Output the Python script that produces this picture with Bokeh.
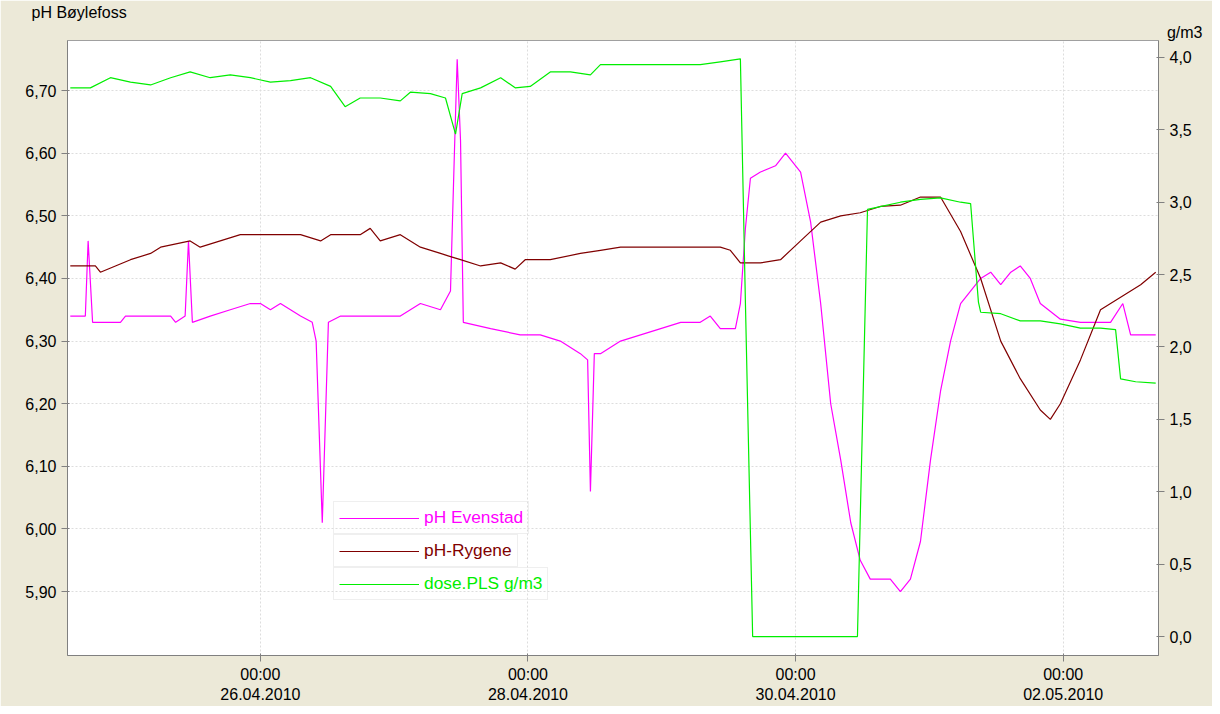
from bokeh.plotting import figure
from bokeh.models import Range1d, LinearAxis, Legend, LegendItem, FixedTicker, Title
from bokeh.embed import file_html
from bokeh.resources import INLINE

# hours relative to 26.04.2010 00:00
ev_h = [-34.1,-31.4,-30.9,-30.1,-25.1,-24.2,-16.1,-15.2,-13.5,-12.9,-12.2,-9.0,-5.4,-1.8,0,1.8,3.6,7.2,9.3,10.0,11.1,12.2,14.4,25.1,26.9,28.7,32.3,34.1,34.8,35.3,35.9,36.4,41.3,46.6,50.2,53.8,57.4,58.7,59.2,59.9,61.0,64.6,68.2,71.8,75.4,78.9,80.7,82.5,85.2,86.1,87.0,87.9,89.7,92.4,94.2,96.9,98.7,100.5,102.3,104.1,105.9,107.6,109.4,111.2,113.0,114.8,116.6,118.4,120.2,122.0,123.8,125.6,129.2,131.0,132.8,134.6,136.3,138.1,139.9,143.5,147.1,150.7,152.5,154.7,156.1,160.6]
ev_ph = [6.34,6.34,6.46,6.33,6.33,6.34,6.34,6.33,6.34,6.46,6.33,6.34,6.35,6.36,6.36,6.35,6.36,6.34,6.33,6.30,6.01,6.33,6.34,6.34,6.35,6.36,6.35,6.38,6.60,6.75,6.62,6.33,6.32,6.31,6.31,6.30,6.28,6.27,6.06,6.28,6.28,6.30,6.31,6.32,6.33,6.33,6.34,6.32,6.32,6.36,6.48,6.56,6.57,6.58,6.60,6.57,6.49,6.36,6.20,6.11,6.01,5.95,5.92,5.92,5.92,5.90,5.92,5.98,6.11,6.22,6.30,6.36,6.40,6.41,6.39,6.41,6.42,6.40,6.36,6.335,6.33,6.33,6.33,6.36,6.31,6.31]

ry_h = [-34.1,-29.6,-28.7,-26.0,-23.3,-19.7,-17.9,-12.6,-10.8,-7.2,-3.6,0,7.2,10.8,12.6,17.9,19.7,21.5,25.1,28.7,32.3,34.1,35.9,39.5,43.1,45.7,47.5,52.0,57.4,61.0,64.6,70.0,75.4,78.9,82.5,84.3,86.1,89.7,93.3,96.9,100.5,104.1,107.6,111.2,114.8,118.4,122.0,125.6,129.2,132.8,136.3,139.9,141.7,143.5,147.1,150.7,154.3,157.9,160.6]
ry_ph = [6.42,6.42,6.41,6.42,6.43,6.44,6.45,6.46,6.45,6.46,6.47,6.47,6.47,6.46,6.47,6.47,6.48,6.46,6.47,6.45,6.44,6.435,6.43,6.42,6.425,6.415,6.43,6.43,6.44,6.445,6.45,6.45,6.45,6.45,6.45,6.445,6.425,6.425,6.43,6.46,6.49,6.50,6.505,6.515,6.517,6.53,6.53,6.475,6.40,6.30,6.24,6.19,6.175,6.20,6.27,6.35,6.37,6.39,6.41]

pl_h = [-34.1,-30.5,-26.9,-23.3,-19.7,-16.1,-12.6,-9.0,-5.4,-1.8,1.8,5.4,9.0,12.6,15.2,17.9,21.5,25.1,26.9,30.5,33.2,35.0,36.2,39.5,43.1,45.7,48.4,52.0,55.6,59.2,61.0,64.6,70.0,78.9,82.5,86.1,87.0,88.3,96.9,107.1,108.9,111.2,114.8,118.4,122.0,125.6,127.4,128.8,129.2,132.8,136.3,139.9,143.5,147.1,150.7,153.4,154.3,157.0,160.6]
pl_g = [3.79,3.79,3.86,3.83,3.81,3.86,3.90,3.86,3.88,3.86,3.83,3.84,3.86,3.80,3.66,3.72,3.72,3.70,3.76,3.75,3.72,3.47,3.75,3.79,3.86,3.79,3.80,3.90,3.90,3.88,3.95,3.95,3.95,3.95,3.97,3.99,2.31,0.0,0.0,0.0,2.95,2.97,3.0,3.02,3.03,3.0,2.99,2.31,2.24,2.23,2.18,2.18,2.16,2.13,2.13,2.12,1.78,1.76,1.75]

x_ticks = [0, 48, 96, 144]
x_labels = ["00:00\n26.04.2010", "00:00\n28.04.2010", "00:00\n30.04.2010", "00:00\n02.05.2010"]
ph_ticks = [5.9, 6.0, 6.1, 6.2, 6.3, 6.4, 6.5, 6.6, 6.7]
g_ticks = [0.0, 0.5, 1.0, 1.5, 2.0, 2.5, 3.0, 3.5, 4.0]

FONT = "Liberation Sans"
p = figure(width=1212, height=706, output_backend="svg", toolbar_location=None,
           x_range=Range1d(-34.6, 161.1), y_range=Range1d(5.798, 6.78),
           min_border_left=67, min_border_right=54, min_border_top=0, min_border_bottom=51)
p.background_fill_color = "white"
p.border_fill_color = "#ECE9D8"
p.outline_line_color = "#A0A0A0"
p.extra_y_ranges = {"g": Range1d(-0.131, 4.117)}

p.title.text = "pH  Bøylefoss"
p.title.text_font = FONT
p.title.text_font_size = "12pt"
p.title.text_font_style = "normal"
p.title.text_color = "black"
p.title.offset = -36
p.title.standoff = 2
p.add_layout(Title(text="g/m3", align="right", text_font=FONT, text_font_size="12pt",
                   text_font_style="normal", text_color="black", offset=-44, standoff=0), "above")

p.xaxis.ticker = FixedTicker(ticks=x_ticks)
p.xaxis.major_label_overrides = dict(zip(x_ticks, x_labels))
p.yaxis.ticker = FixedTicker(ticks=ph_ticks)
p.yaxis.major_label_overrides = {t: f"{t:.2f}".replace(".", ",") for t in ph_ticks}
ax2 = LinearAxis(y_range_name="g", ticker=FixedTicker(ticks=g_ticks),
                 major_label_overrides={t: f"{t:.1f}".replace(".", ",") for t in g_ticks})
p.add_layout(ax2, "right")
for ax in [p.xaxis[0], p.yaxis[0], ax2]:
    ax.major_label_text_font = FONT
    ax.major_label_text_font_size = "12pt"
    ax.major_label_text_color = "black"
    ax.axis_line_color = "#808080"
    ax.major_tick_line_color = "#808080"
    ax.minor_tick_line_color = None
p.xaxis.major_label_standoff = 4
p.xgrid.ticker = FixedTicker(ticks=x_ticks)
p.grid.grid_line_color = "#DDDDDD"
p.grid.grid_line_dash = "2 2"

r1 = p.line(ev_h, ev_ph, line_color="#FF00FF", line_width=1.2)
r2 = p.line(ry_h, ry_ph, line_color="#800000", line_width=1.2)
r3 = p.line(pl_h, pl_g, line_color="#00EE00", line_width=1.2, y_range_name="g")

for r, lab, col, yy in [(r1, "pH Evenstad", "#FF00FF", 121), (r2, "pH-Rygene", "#800000", 88),
                        (r3, "dose.PLS g/m3", "#00EE00", 55)]:
    lg = Legend(items=[LegendItem(label=lab, renderers=[r])], location=(266, yy),
                label_text_color=col, label_text_font=FONT, label_text_font_size="13pt",
                glyph_width=80, label_height=20, padding=5, margin=0,
                border_line_color="#E0E0E0", background_fill_alpha=0.0)
    p.add_layout(lg, "center")

open("out.html", "w").write(file_html(p, INLINE))
